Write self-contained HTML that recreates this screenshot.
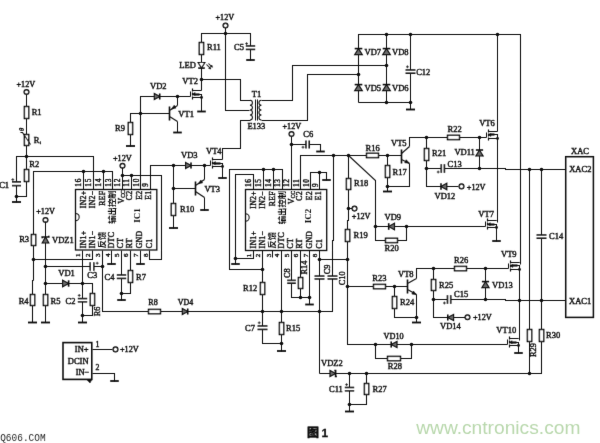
<!DOCTYPE html>
<html>
<head>
<meta charset="utf-8">
<title>图1</title>
<style>
html,body{margin:0;padding:0;background:#fff}
body{width:600px;height:443px;overflow:hidden;position:relative}
svg{position:absolute;left:0;top:0;display:block}
svg text{font-family:"Liberation Serif","Noto Serif CJK SC",serif;font-size:8.5px;fill:#0c0c0c;stroke:#0c0c0c;stroke-width:.4px}
svg text.cj{font-family:"Liberation Sans","Noto Sans CJK SC",sans-serif;font-weight:700;stroke-width:0}
svg text.b{font-weight:700;stroke-width:0}
polyline,.ln{fill:none;stroke:#0c0c0c;stroke-width:1.05}
.p{fill:none;stroke:#0c0c0c;stroke-width:1.6}
.pm{fill:none;stroke:#0c0c0c;stroke-width:.8}
.g{stroke:#0c0c0c;stroke-width:1.8}
.d{fill:#0c0c0c}
.t{fill:#fff;stroke:#0c0c0c;stroke-width:1.5}
.r{fill:#fff;stroke:#0c0c0c;stroke-width:1.45}
.w{fill:#fff;stroke:none}
.ic{fill:none;stroke:#0c0c0c;stroke-width:1.3}
.df{fill:#0c0c0c;stroke:#0c0c0c;stroke-width:.5;stroke-linejoin:round}
.do{fill:#fff;stroke:#0c0c0c;stroke-width:1.2}
.dd{fill:#6a6a6a;stroke:#0c0c0c;stroke-width:1.15;stroke-linejoin:miter}
svg text.q{font-family:"Liberation Mono",monospace;font-size:11.3px;fill:#2b2b2b;stroke:none}
svg text.fig{font-family:"Liberation Sans","Noto Sans CJK SC",sans-serif;font-weight:700;font-size:12px;fill:#0a0a0a;stroke:#0a0a0a;stroke-width:.55px}
svg text.fig1{font-family:"Liberation Sans",sans-serif;font-weight:700;font-size:11.8px;fill:#0a0a0a;stroke:#0a0a0a;stroke-width:.3px}
svg text.wm{font-family:"Liberation Sans",sans-serif;font-size:19.2px;fill:#b9d8ad;stroke:none}
</style>
</head>
<body>
<svg width="600" height="443" viewBox="0 0 600 443">
<defs><filter id="soft" x="0" y="0" width="600" height="443" filterUnits="userSpaceOnUse"><feConvolveMatrix order="3" kernelMatrix="0.0052 0.0619 0.0052 0.0619 0.7314 0.0619 0.0052 0.0619 0.0052" edgeMode="none"/></filter></defs>
<g filter="url(#soft)">
<text x="16.5" y="87.2" style="font-size:8.2px">+12V</text>
<circle class="t" cx="26.5" cy="92" r="2.3"/>
<polyline points="26.5,94.5 26.5,156.5"/>
<rect class="r" x="24.4" y="106.5" width="4.3" height="12"/>
<text x="31.7" y="115">R1</text>
<rect class="r" x="24.4" y="134.5" width="4.3" height="11"/>
<polyline points="20.5,132.5 22.5,132.5 30.5,144.5"/>
<text x="23.3" y="131.5" transform="rotate(-75 23.3 131.5)" style="font-size:6.5px">θ</text>
<text x="33.8" y="142.5">R</text>
<text x="39.8" y="144" style="font-size:4.2px">t</text>
<circle class="d" cx="26.5" cy="156.5" r="1.8"/>
<polyline points="26.5,156.5 26.5,196.5 16.5,196.5"/>
<rect class="r" x="24.4" y="169.5" width="4.3" height="12"/>
<text x="29.3" y="166.8">R2</text>
<polyline points="16.5,202.5 16.5,156.5 93.5,156.5 93.5,189.5"/>
<rect class="w" x="12" y="181.9" width="9" height="3.7"/>
<line class="p" x1="12" y1="181.9" x2="21" y2="181.9"/>
<line class="p" x1="12" y1="185.6" x2="21" y2="185.6"/>
<path class="pm" d="M11.4 179.6H14.2M12.8 178.2V181"/>
<text x="-0.8" y="187.8">C1</text>
<circle class="d" cx="16.5" cy="196.5" r="1.8"/>
<line class="g" x1="12" y1="202" x2="21" y2="202"/>
<polyline points="33.5,280.5 33.5,171.5 112.5,171.5 112.5,189.5"/>
<polyline points="83.5,171.5 83.5,189.5"/>
<polyline points="103.5,171.5 103.5,189.5"/>
<circle class="d" cx="83.5" cy="171.5" r="1.8"/>
<circle class="d" cx="103.5" cy="171.5" r="1.8"/>
<rect class="r" x="31.4" y="234.5" width="4.3" height="11"/>
<text x="19.2" y="242.3">R3</text>
<circle class="d" cx="33.5" cy="259.5" r="1.8"/>
<polyline points="33.5,259.5 92.5,259.5 92.5,250.5"/>
<polyline points="33.5,280.5 32.5,280.5 32.5,322.5"/>
<rect class="r" x="30.4" y="294.5" width="4.3" height="11"/>
<text x="18.7" y="303.5">R4</text>
<line class="g" x1="28" y1="322.5" x2="37" y2="322.5"/>
<text x="113" y="161.3" style="font-size:8.2px">+12V</text>
<circle class="t" cx="122.5" cy="165.8" r="2.3"/>
<polyline points="122.5,167.5 122.5,189.5"/>
<polyline points="122.5,175.5 161.5,175.5 161.5,259.5 149.5,259.5 149.5,250.5"/>
<polyline points="131.5,175.5 131.5,189.5"/>
<circle class="d" cx="122.5" cy="175.5" r="1.8"/>
<circle class="d" cx="131.5" cy="175.5" r="1.8"/>
<polyline points="140.5,189.5 140.5,96.5 190.5,96.5"/>
<polyline points="150.5,189.5 150.5,165.5 210.5,165.5"/>
<rect class="ic" x="75.5" y="189.5" width="81.3" height="60.5"/>
<path class="ln" d="M75.5 213.4A3.7 3.7 0 0 1 75.5 220.8"/>
<text x="81.1" y="186.8" transform="rotate(-90 81.1 186.8)" style="font-size:7.3px" letter-spacing="0.8">16</text>
<text x="91.4" y="186.8" transform="rotate(-90 91.4 186.8)" style="font-size:7.3px" letter-spacing="0.8">15</text>
<text x="101.1" y="186.8" transform="rotate(-90 101.1 186.8)" style="font-size:7.3px" letter-spacing="0.8">14</text>
<text x="110.6" y="186.8" transform="rotate(-90 110.6 186.8)" style="font-size:7.3px" letter-spacing="0.8">13</text>
<text x="120.1" y="186.8" transform="rotate(-90 120.1 186.8)" style="font-size:7.3px" letter-spacing="0.8">12</text>
<text x="129.4" y="186.8" transform="rotate(-90 129.4 186.8)" style="font-size:7.3px" letter-spacing="0.8">11</text>
<text x="138.9" y="186.8" transform="rotate(-90 138.9 186.8)" style="font-size:7.3px" letter-spacing="0.8">10</text>
<text x="148.1" y="186.8" transform="rotate(-90 148.1 186.8)" style="font-size:7.3px" letter-spacing="0.8">9</text>
<text x="86.3" y="190.5" text-anchor="end" transform="rotate(-90 86.3 190.5)" style="font-size:7.8px" letter-spacing=".3">IN2+</text>
<text x="94.8" y="190.5" text-anchor="end" transform="rotate(-90 94.8 190.5)" style="font-size:7.8px" letter-spacing=".3">IN2−</text>
<text x="105.1" y="190.5" text-anchor="end" transform="rotate(-90 105.1 190.5)" style="font-size:7.8px" letter-spacing=".3">REF</text>
<text x="115.1" y="190.3" text-anchor="end" transform="rotate(-90 115.1 190.3)" style="font-size:8.4px" class="cj">输出控制</text>
<text x="123.5" y="190.5" text-anchor="end" transform="rotate(-90 123.5 190.5)" style="font-size:8.2px">V<tspan style="font-size:5.4px" dy="1.4">CC</tspan></text>
<text x="132.4" y="190.5" text-anchor="end" transform="rotate(-90 132.4 190.5)" style="font-size:7.8px" letter-spacing=".3">C2</text>
<text x="141.9" y="190.5" text-anchor="end" transform="rotate(-90 141.9 190.5)" style="font-size:7.8px" letter-spacing=".3">E2</text>
<text x="151.3" y="190.5" text-anchor="end" transform="rotate(-90 151.3 190.5)" style="font-size:7.8px" letter-spacing=".3">E1</text>
<text x="140.3" y="222.8" transform="rotate(-90 140.3 222.8)" style="font-size:9px" class="b">IC1</text>
<text x="80.5" y="257.1" transform="rotate(-90 80.5 257.1)" style="font-size:7px">1</text>
<text x="90.5" y="257.1" transform="rotate(-90 90.5 257.1)" style="font-size:7px">2</text>
<text x="100.3" y="257.1" transform="rotate(-90 100.3 257.1)" style="font-size:7px">3</text>
<text x="109.7" y="257.1" transform="rotate(-90 109.7 257.1)" style="font-size:7px">4</text>
<text x="119" y="257.1" transform="rotate(-90 119 257.1)" style="font-size:7px">5</text>
<text x="128.5" y="257.1" transform="rotate(-90 128.5 257.1)" style="font-size:7px">6</text>
<text x="138" y="257.1" transform="rotate(-90 138 257.1)" style="font-size:7px">7</text>
<text x="147.7" y="257.1" transform="rotate(-90 147.7 257.1)" style="font-size:7px">8</text>
<text x="86.3" y="248.3" transform="rotate(-90 86.3 248.3)" style="font-size:7.8px" letter-spacing=".3">IN1+</text>
<text x="95.1" y="248.3" transform="rotate(-90 95.1 248.3)" style="font-size:7.8px" letter-spacing=".3">IN1−</text>
<text x="104.8" y="248.3" transform="rotate(-90 104.8 248.3)" style="font-size:8.2px" class="cj">反馈</text>
<text x="113.6" y="248.3" transform="rotate(-90 113.6 248.3)" style="font-size:7.8px" letter-spacing=".3">DTC</text>
<text x="123" y="248.3" transform="rotate(-90 123 248.3)" style="font-size:7.8px" letter-spacing=".3">CT</text>
<text x="132.4" y="248.3" transform="rotate(-90 132.4 248.3)" style="font-size:7.8px" letter-spacing=".3">RT</text>
<text x="142.1" y="248.3" transform="rotate(-90 142.1 248.3)" style="font-size:7.8px" letter-spacing=".3">GND</text>
<text x="151.6" y="248.3" transform="rotate(-90 151.6 248.3)" style="font-size:7.8px" letter-spacing=".3">C1</text>
<polyline points="82.5,250.5 82.5,322.5"/>
<line class="g" x1="78" y1="322.5" x2="87" y2="322.5"/>
<rect class="w" x="77.8" y="298.6" width="9.5" height="3.2"/>
<line class="p" x1="77.8" y1="298.6" x2="87.2" y2="298.6"/>
<line class="p" x1="77.8" y1="301.8" x2="87.2" y2="301.8"/>
<path class="pm" d="M77.8 295.4H80.6M79.2 294V296.8"/>
<text x="65.5" y="303.5">C2</text>
<circle class="d" cx="82.5" cy="283.5" r="1.8"/>
<circle class="d" cx="82.5" cy="315.5" r="1.8"/>
<polyline points="102.5,250.5 102.5,311.5 332.5,311.5 332.5,240.5 333.5,240.5 333.5,155.5"/>
<circle class="d" cx="102.5" cy="266.5" r="1.8"/>
<polyline points="111.5,250.5 111.5,264.5"/>
<line class="g" x1="107.2" y1="264" x2="115.8" y2="264"/>
<polyline points="121.5,250.5 121.5,300.5"/>
<rect class="w" x="116.8" y="275" width="9.5" height="3.4"/>
<line class="p" x1="116.8" y1="275" x2="126.2" y2="275"/>
<line class="p" x1="116.8" y1="278.4" x2="126.2" y2="278.4"/>
<text x="104.5" y="279.8">C4</text>
<circle class="d" cx="121.5" cy="293.5" r="1.8"/>
<line class="g" x1="117.2" y1="300" x2="125.8" y2="300"/>
<polyline points="130.5,250.5 130.5,293.5 121.5,293.5"/>
<rect class="r" x="128.3" y="270.5" width="4.3" height="12"/>
<text x="136" y="279.8">R7</text>
<polyline points="140.5,250.5 140.5,264.5"/>
<line class="g" x1="136.2" y1="264" x2="144.8" y2="264"/>
<text x="36.2" y="214" style="font-size:8.2px">+12V</text>
<circle class="t" cx="45.5" cy="220" r="2.3"/>
<polyline points="45.5,221.5 45.5,322.5"/>
<polygon class="dd" points="42.2,243 48.8,243 45.5,237"/>
<polyline class="p" points="42.2,238.3 42.2,237 48.8,237 48.8,235.7"/>
<text x="52" y="242.8">VDZ1</text>
<circle class="d" cx="45.5" cy="266.5" r="1.8"/>
<circle class="d" cx="45.5" cy="283.5" r="1.8"/>
<rect class="r" x="43.4" y="294.5" width="4.3" height="11"/>
<text x="50.6" y="303.5">R5</text>
<line class="g" x1="41" y1="322.5" x2="50" y2="322.5"/>
<polyline points="45.5,266.5 102.5,266.5"/>
<rect class="w" x="90.2" y="262.2" width="3.6" height="8.5"/>
<line class="p" x1="90.2" y1="262.2" x2="90.2" y2="270.8"/>
<line class="p" x1="93.8" y1="262.2" x2="93.8" y2="270.8"/>
<path class="pm" d="M95.8 263.2H98.6M97.2 261.8V264.6"/>
<text x="87.3" y="278.2">C3</text>
<polyline points="45.5,283.5 92.5,283.5 92.5,315.5 82.5,315.5"/>
<polygon class="dd" points="62.6,280.3 62.6,286.7 68.6,283.5"/>
<polyline class="p" points="68.6,280.3 68.6,286.7"/>
<text x="58.3" y="276.3">VD1</text>
<rect class="r" x="90.3" y="293.5" width="4.3" height="12"/>
<text x="100.3" y="316.2" transform="rotate(-90 100.3 316.2)" style="font-size:8.2px">R6</text>
<rect class="r" x="148.5" y="309.4" width="12" height="4.3"/>
<text x="148.3" y="305" style="font-size:8.1px">R8</text>
<polygon class="dd" points="182.3,308.5 182.3,314.5 187.7,311.5"/>
<polyline class="p" points="187.7,308.5 187.7,314.5"/>
<text x="177.8" y="305" style="font-size:7.9px">VD4</text>
<polyline points="130.5,146.5 130.5,113.5 169.5,113.5"/>
<circle class="d" cx="140.5" cy="113.5" r="1.8"/>
<rect class="r" x="128.3" y="122.5" width="4.3" height="12"/>
<text x="115" y="131">R9</text>
<line class="g" x1="126" y1="146" x2="135" y2="146"/>
<polygon class="dd" points="154.3,93.5 154.3,99.5 159.7,96.5"/>
<polyline class="p" points="159.7,93.5 159.7,99.5"/>
<text x="150" y="89">VD2</text>
<circle class="d" cx="177.5" cy="96.5" r="1.8"/>
<polyline points="169.5,106.5 169.5,120.5" style="stroke-width:1.6"/>
<polyline points="169.5,110.5 177.5,105.5"/>
<polyline points="169.5,116.5 177.5,121.5"/>
<polygon class="df" points="171.4,109 174.2,105.2 176,108.1"/>
<polyline points="177.5,105.5 177.5,96.5"/>
<polyline points="177.5,121.5 177.5,132.5"/>
<line class="g" x1="173.2" y1="132.5" x2="181.8" y2="132.5"/>
<text x="178.3" y="116.7">VT1</text>
<polyline points="190.5,91.5 190.5,96.5"/>
<polyline points="192.5,88.5 192.5,91.5" style="stroke-width:1.2"/>
<polyline points="192.5,92.5 192.5,95.5" style="stroke-width:1.2"/>
<polyline points="192.5,96.5 192.5,99.5" style="stroke-width:1.2"/>
<polyline points="192.5,90.5 201.5,90.5"/>
<polyline points="192.5,97.5 201.5,97.5"/>
<polyline points="192.5,94.5 201.5,94.5 201.5,97.5"/>
<polyline points="193.5,94.5 199.5,94.5" style="stroke-width:2.1"/>
<polygon class="df" points="192.7,94 195.1,92.5 195.1,95.5"/>
<circle class="d" cx="201.5" cy="97.5" r="1.4"/>
<text x="182.3" y="84.2">VT2</text>
<polyline points="201.5,97.5 201.5,111.5"/>
<line class="g" x1="197.2" y1="111.5" x2="205.8" y2="111.5"/>
<text x="215.5" y="20" style="font-size:8.2px">+12V</text>
<circle class="t" cx="225.5" cy="25.5" r="2.3"/>
<polyline points="225.5,27.5 225.5,110.5 249.5,110.5"/>
<circle class="d" cx="225.5" cy="33.5" r="1.8"/>
<polyline points="201.5,90.5 201.5,33.5 250.5,33.5 250.5,60.5"/>
<rect class="r" x="199.3" y="42.5" width="4.3" height="12"/>
<text x="207" y="50.2">R11</text>
<polygon class="do" points="198.2,62.5 204.8,62.5 201.5,68.1"/>
<polyline class="p" points="198.2,68.1 204.8,68.1"/>
<polyline points="206.5,64.5 210.5,68.5"/>
<polyline points="208.5,63.5 211.5,66.5"/>
<polygon class="df" points="210.8,69.1 208.6,68.4 210.1,66.9"/>
<polygon class="df" points="212.6,67.3 210.4,66.6 211.9,65.1"/>
<text x="179.3" y="68.3">LED</text>
<circle class="d" cx="201.5" cy="79.5" r="1.8"/>
<polyline points="201.5,79.5 240.5,79.5 240.5,100.5 250.5,100.5"/>
<rect class="w" x="245.8" y="46" width="9.5" height="3.4"/>
<line class="p" x1="245.8" y1="46" x2="255.2" y2="46"/>
<line class="p" x1="245.8" y1="49.4" x2="255.2" y2="49.4"/>
<path class="pm" d="M245.2 43.6H248M246.6 42.2V45"/>
<text x="234" y="49.8">C5</text>
<line class="g" x1="246.2" y1="60" x2="254.8" y2="60"/>
<path class="ln" d="M250 100.2a2.6 2.48 0 0 1 0 4.95a2.6 2.48 0 0 1 0 4.95a2.6 2.48 0 0 1 0 4.95a2.6 2.48 0 0 1 0 4.95"/>
<path class="ln" d="M261.4 100.2a2.6 2.48 0 0 0 0 4.95a2.6 2.48 0 0 0 0 4.95a2.6 2.48 0 0 0 0 4.95a2.6 2.48 0 0 0 0 4.95"/>
<polyline points="255.5,99.5 255.5,120.5"/>
<polyline points="257.5,99.5 257.5,120.5"/>
<text x="251.8" y="97.2">T1</text>
<text x="247.4" y="129.2">E133</text>
<polyline points="250.5,120.5 240.5,120.5 240.5,148.5 222.5,148.5 222.5,159.5"/>
<polygon class="dd" points="185.6,162.5 185.6,168.5 191,165.5"/>
<polyline class="p" points="191,162.5 191,168.5"/>
<text x="181" y="157.5">VD3</text>
<circle class="d" cx="173.5" cy="165.5" r="1.8"/>
<circle class="d" cx="204.5" cy="165.5" r="1.8"/>
<polyline points="173.5,165.5 173.5,228.5"/>
<rect class="r" x="171.3" y="203.5" width="4.3" height="12"/>
<text x="180" y="211.9">R10</text>
<line class="g" x1="169" y1="228" x2="178" y2="228"/>
<polyline points="173.5,188.5 195.5,188.5"/>
<circle class="d" cx="173.5" cy="188.5" r="1.8"/>
<polyline points="195.5,181.5 195.5,195.5" style="stroke-width:1.6"/>
<polyline points="195.5,185.5 204.5,179.5"/>
<polyline points="195.5,191.5 204.5,197.5"/>
<polygon class="df" points="198.2,183.9 200.8,180 202.7,182.8"/>
<polyline points="204.5,179.5 204.5,165.5"/>
<polyline points="204.5,197.5 204.5,210.5"/>
<line class="g" x1="200.2" y1="210" x2="208.8" y2="210"/>
<text x="204.4" y="191.7">VT3</text>
<polyline points="210.5,160.5 210.5,165.5"/>
<polyline points="212.5,157.5 212.5,160.5" style="stroke-width:1.2"/>
<polyline points="212.5,161.5 212.5,164.5" style="stroke-width:1.2"/>
<polyline points="212.5,165.5 212.5,168.5" style="stroke-width:1.2"/>
<polyline points="212.5,159.5 222.5,159.5"/>
<polyline points="212.5,166.5 222.5,166.5"/>
<polyline points="212.5,163.5 222.5,163.5 222.5,166.5"/>
<polyline points="213.5,163.5 220.5,163.5" style="stroke-width:2.1"/>
<polygon class="df" points="213,163.1 215.4,161.6 215.4,164.6"/>
<circle class="d" cx="222.5" cy="166.5" r="1.4"/>
<text x="206" y="153.8">VT4</text>
<polyline points="222.5,166.5 222.5,178.5"/>
<line class="g" x1="218.2" y1="178" x2="226.8" y2="178"/>
<rect class="ic" x="245.5" y="189.5" width="81.2" height="61"/>
<path class="ln" d="M245.5 213.8A3.7 3.7 0 0 1 245.5 221.2"/>
<text x="251.3" y="187.1" transform="rotate(-90 251.3 187.1)" style="font-size:7.3px" letter-spacing="0.8">16</text>
<text x="261.3" y="187.1" transform="rotate(-90 261.3 187.1)" style="font-size:7.3px" letter-spacing="0.8">15</text>
<text x="271.4" y="187.1" transform="rotate(-90 271.4 187.1)" style="font-size:7.3px" letter-spacing="0.8">14</text>
<text x="280.4" y="187.1" transform="rotate(-90 280.4 187.1)" style="font-size:7.3px" letter-spacing="0.8">13</text>
<text x="289.5" y="187.1" transform="rotate(-90 289.5 187.1)" style="font-size:7.3px" letter-spacing="0.8">12</text>
<text x="298.9" y="187.1" transform="rotate(-90 298.9 187.1)" style="font-size:7.3px" letter-spacing="0.8">11</text>
<text x="309" y="187.1" transform="rotate(-90 309 187.1)" style="font-size:7.3px" letter-spacing="0.8">10</text>
<text x="317.9" y="187.1" transform="rotate(-90 317.9 187.1)" style="font-size:7.3px" letter-spacing="0.8">9</text>
<text x="256.3" y="191" text-anchor="end" transform="rotate(-90 256.3 191)" style="font-size:7.8px" letter-spacing=".3">IN2+</text>
<text x="264.8" y="191" text-anchor="end" transform="rotate(-90 264.8 191)" style="font-size:7.8px" letter-spacing=".3">IN2−</text>
<text x="275.1" y="191" text-anchor="end" transform="rotate(-90 275.1 191)" style="font-size:7.8px" letter-spacing=".3">REF</text>
<text x="285.1" y="190.8" text-anchor="end" transform="rotate(-90 285.1 190.8)" style="font-size:8.4px" class="cj">输出控制</text>
<text x="293.5" y="191" text-anchor="end" transform="rotate(-90 293.5 191)" style="font-size:8.2px">V<tspan style="font-size:5.4px" dy="1.4">CC</tspan></text>
<text x="302.4" y="191" text-anchor="end" transform="rotate(-90 302.4 191)" style="font-size:7.8px" letter-spacing=".3">C2</text>
<text x="311.9" y="191" text-anchor="end" transform="rotate(-90 311.9 191)" style="font-size:7.8px" letter-spacing=".3">E2</text>
<text x="321.3" y="191" text-anchor="end" transform="rotate(-90 321.3 191)" style="font-size:7.8px" letter-spacing=".3">E1</text>
<text x="310.8" y="223.3" transform="rotate(-90 310.8 223.3)" style="font-size:9px" class="b">IC2</text>
<text x="251.2" y="257.3" transform="rotate(-90 251.2 257.3)" style="font-size:7px">1</text>
<text x="260.5" y="257.3" transform="rotate(-90 260.5 257.3)" style="font-size:7px">2</text>
<text x="270.7" y="257.3" transform="rotate(-90 270.7 257.3)" style="font-size:7px">3</text>
<text x="279" y="257.3" transform="rotate(-90 279 257.3)" style="font-size:7px">4</text>
<text x="289" y="257.3" transform="rotate(-90 289 257.3)" style="font-size:7px">5</text>
<text x="298.5" y="257.3" transform="rotate(-90 298.5 257.3)" style="font-size:7px">6</text>
<text x="307.7" y="257.3" transform="rotate(-90 307.7 257.3)" style="font-size:7px">7</text>
<text x="317.5" y="257.3" transform="rotate(-90 317.5 257.3)" style="font-size:7px">8</text>
<text x="256.3" y="248.5" transform="rotate(-90 256.3 248.5)" style="font-size:7.8px" letter-spacing=".3">IN1+</text>
<text x="265.1" y="248.5" transform="rotate(-90 265.1 248.5)" style="font-size:7.8px" letter-spacing=".3">IN1−</text>
<text x="274.8" y="248.5" transform="rotate(-90 274.8 248.5)" style="font-size:8.2px" class="cj">反馈</text>
<text x="283.6" y="248.5" transform="rotate(-90 283.6 248.5)" style="font-size:7.8px" letter-spacing=".3">DTC</text>
<text x="293" y="248.5" transform="rotate(-90 293 248.5)" style="font-size:7.8px" letter-spacing=".3">CT</text>
<text x="302.4" y="248.5" transform="rotate(-90 302.4 248.5)" style="font-size:7.8px" letter-spacing=".3">RT</text>
<text x="312.1" y="248.5" transform="rotate(-90 312.1 248.5)" style="font-size:7.8px" letter-spacing=".3">GND</text>
<text x="321.6" y="248.5" transform="rotate(-90 321.6 248.5)" style="font-size:7.8px" letter-spacing=".3">C1</text>
<polyline points="282.5,189.5 282.5,169.5 229.5,169.5 229.5,269.5 262.5,269.5"/>
<polyline points="263.5,169.5 263.5,189.5"/>
<polyline points="273.5,169.5 273.5,189.5"/>
<circle class="d" cx="263.5" cy="169.5" r="1.8"/>
<circle class="d" cx="273.5" cy="169.5" r="1.8"/>
<polyline points="253.5,189.5 253.5,174.5 235.5,174.5 235.5,264.5"/>
<polyline points="253.5,250.5 253.5,258.5 235.5,258.5"/>
<circle class="d" cx="235.5" cy="258.5" r="1.8"/>
<line class="g" x1="231.2" y1="264" x2="239.8" y2="264"/>
<text x="282.5" y="128.8" style="font-size:8.2px">+12V</text>
<circle class="t" cx="291.5" cy="134" r="2.3"/>
<polyline points="291.5,136.5 291.5,189.5"/>
<circle class="d" cx="291.5" cy="144.5" r="1.8"/>
<polyline points="291.5,144.5 320.5,144.5 320.5,151.5"/>
<rect class="w" x="306" y="140.5" width="3.2" height="8"/>
<line class="p" x1="306" y1="140.5" x2="306" y2="148.5"/>
<line class="p" x1="309.2" y1="140.5" x2="309.2" y2="148.5"/>
<path class="pm" d="M301.6 147.2H304.4M303 145.8V148.6"/>
<text x="303.3" y="137.2">C6</text>
<line class="g" x1="316.2" y1="151.5" x2="324.8" y2="151.5"/>
<polyline points="300.5,189.5 300.5,155.5 366.5,155.5"/>
<polyline points="310.5,189.5 310.5,172.5 326.5,172.5 326.5,180.5"/>
<polyline points="319.5,172.5 319.5,189.5"/>
<circle class="d" cx="319.5" cy="172.5" r="1.8"/>
<line class="g" x1="322.2" y1="180" x2="330.8" y2="180"/>
<polyline points="262.5,250.5 262.5,343.5 281.5,343.5"/>
<circle class="d" cx="262.5" cy="269.5" r="1.8"/>
<rect class="r" x="260.4" y="282.5" width="4.3" height="12"/>
<text x="243" y="290.5">R12</text>
<circle class="d" cx="262.5" cy="311.5" r="1.8"/>
<rect class="w" x="257.5" y="326" width="10" height="3.4"/>
<line class="p" x1="257.5" y1="326" x2="267.5" y2="326"/>
<line class="p" x1="257.5" y1="329.4" x2="267.5" y2="329.4"/>
<path class="pm" d="M257.8 322.8H260.6M259.2 321.4V324.2"/>
<text x="245" y="331.2">C7</text>
<polyline points="272.5,250.5 272.5,257.5"/>
<polyline points="281.5,250.5 281.5,351.5"/>
<circle class="d" cx="281.5" cy="311.5" r="1.8"/>
<rect class="r" x="279.4" y="322.5" width="4.3" height="12"/>
<text x="286" y="331.2">R15</text>
<circle class="d" cx="281.5" cy="343.5" r="1.8"/>
<line class="g" x1="277" y1="351" x2="286" y2="351"/>
<polyline points="291.5,250.5 291.5,297.5 309.5,297.5"/>
<rect class="w" x="287.2" y="280.4" width="8.5" height="2.8"/>
<line class="p" x1="287.2" y1="280.4" x2="295.8" y2="280.4"/>
<line class="p" x1="287.2" y1="283.2" x2="295.8" y2="283.2"/>
<text x="289.6" y="278" transform="rotate(-90 289.6 278)" style="font-size:8.4px">C8</text>
<polyline points="300.5,250.5 300.5,297.5"/>
<rect class="r" x="298.4" y="277.5" width="4.3" height="11"/>
<text x="307.4" y="274.5" transform="rotate(-90 307.4 274.5)" style="font-size:8.4px">R14</text>
<circle class="d" cx="300.5" cy="297.5" r="1.8"/>
<circle class="d" cx="309.5" cy="297.5" r="1.8"/>
<polyline points="309.5,250.5 309.5,304.5"/>
<line class="g" x1="305.2" y1="304.5" x2="313.8" y2="304.5"/>
<polyline points="319.5,250.5 319.5,373.5"/>
<circle class="d" cx="319.5" cy="259.5" r="1.8"/>
<polyline points="319.5,259.5 347.5,259.5"/>
<rect class="w" x="314.5" y="276.1" width="10" height="2.8"/>
<line class="p" x1="314.5" y1="276.1" x2="324.5" y2="276.1"/>
<line class="p" x1="314.5" y1="278.9" x2="324.5" y2="278.9"/>
<text x="329.6" y="274.3" transform="rotate(-90 329.6 274.3)" style="font-size:8.4px">C9</text>
<circle class="d" cx="319.5" cy="311.5" r="1.8"/>
<rect class="w" x="327.5" y="276.1" width="10" height="2.8"/>
<line class="p" x1="327.5" y1="276.1" x2="337.5" y2="276.1"/>
<line class="p" x1="327.5" y1="278.9" x2="337.5" y2="278.9"/>
<text x="345.3" y="285.3" transform="rotate(-90 345.3 285.3)" style="font-size:8.4px">C10</text>
<circle class="d" cx="333.5" cy="155.5" r="1.8"/>
<circle class="d" cx="348.5" cy="155.5" r="1.8"/>
<polyline points="348.5,155.5 348.5,220.5 347.5,220.5 347.5,344.5 507.5,344.5"/>
<rect class="r" x="346.4" y="178.5" width="4.3" height="11"/>
<text x="354" y="186">R18</text>
<circle class="d" cx="348.5" cy="208.5" r="1.8"/>
<polyline points="348.5,208.5 352.5,208.5"/>
<circle class="t" cx="354.5" cy="208.6" r="2.3"/>
<text x="351.8" y="218.6" style="font-size:8.2px">+12V</text>
<rect class="r" x="345.4" y="229.5" width="4.3" height="12"/>
<text x="353.6" y="238.3">R19</text>
<circle class="d" cx="347.5" cy="259.5" r="1.8"/>
<circle class="d" cx="347.5" cy="286.5" r="1.8"/>
<polyline points="348.5,155.5 375.5,180.5 375.5,240.5 406.5,240.5 406.5,226.5"/>
<rect class="r" x="366.5" y="153.3" width="12" height="4.3"/>
<text x="365.5" y="150.6">R16</text>
<polyline points="378.5,155.5 401.5,155.5"/>
<circle class="d" cx="387.5" cy="155.5" r="1.8"/>
<polyline points="387.5,155.5 387.5,191.5"/>
<rect class="r" x="385.4" y="165.5" width="4.3" height="12"/>
<text x="392.5" y="174.6">R17</text>
<line class="g" x1="383" y1="191.5" x2="392" y2="191.5"/>
<polyline points="401.5,149.5 401.5,163.5" style="stroke-width:1.6"/>
<polyline points="401.5,153.5 409.5,146.5"/>
<polyline points="401.5,159.5 409.5,163.5"/>
<polygon class="df" points="409.4,163.2 404.7,162.8 406.2,159.7"/>
<text x="391" y="145.6">VT5</text>
<polyline points="409.5,163.5 409.5,186.5 387.5,186.5"/>
<circle class="d" cx="387.5" cy="186.5" r="1.8"/>
<polyline points="409.5,146.5 409.5,137.5 486.5,137.5"/>
<circle class="d" cx="426.5" cy="137.5" r="1.8"/>
<rect class="r" x="447.5" y="135.3" width="12" height="4.3"/>
<text x="447.5" y="132.4">R22</text>
<polyline points="426.5,137.5 426.5,186.5 458.5,186.5"/>
<rect class="r" x="424.4" y="148.5" width="4.3" height="12"/>
<text x="432" y="156.2">R21</text>
<circle class="d" cx="426.5" cy="168.5" r="1.8"/>
<polyline points="426.5,168.5 505.5,168.5 505.5,169.5 565.5,169.5"/>
<rect class="w" x="441.3" y="164.2" width="3.1" height="8.5"/>
<line class="p" x1="441.3" y1="164.2" x2="441.3" y2="172.8"/>
<line class="p" x1="444.4" y1="164.2" x2="444.4" y2="172.8"/>
<path class="pm" d="M436.8 172H439.6M438.2 170.6V173.4"/>
<text x="447.5" y="167.3">C13</text>
<polygon class="dd" points="446.8,183.2 446.8,189.8 441,186.5"/>
<polyline class="p" points="441,183.2 441,189.8"/>
<circle class="t" cx="461.5" cy="186.4" r="2.3"/>
<text x="466.8" y="189.6" style="font-size:8.2px">+12V</text>
<text x="434.6" y="199">VD12</text>
<circle class="d" cx="479.5" cy="137.5" r="1.8"/>
<polyline points="479.5,137.5 479.5,168.5"/>
<polygon class="dd" points="475.9,156 483.1,156 479.5,150"/>
<polyline class="p" points="475.9,150 483.1,150"/>
<text x="454.4" y="155.3">VD11</text>
<circle class="d" cx="479.5" cy="168.5" r="1.8"/>
<polyline points="486.5,132.5 486.5,137.5"/>
<polyline points="488.5,129.5 488.5,132.5" style="stroke-width:1.2"/>
<polyline points="488.5,133.5 488.5,136.5" style="stroke-width:1.2"/>
<polyline points="488.5,137.5 488.5,140.5" style="stroke-width:1.2"/>
<polyline points="488.5,131.5 497.5,131.5"/>
<polyline points="488.5,138.5 497.5,138.5"/>
<polyline points="488.5,134.5 497.5,134.5 497.5,138.5"/>
<polyline points="489.5,134.5 494.5,134.5" style="stroke-width:2.1"/>
<polygon class="df" points="488.5,134.9 490.9,133.4 490.9,136.4"/>
<circle class="d" cx="497.5" cy="138.5" r="1.4"/>
<text x="479.2" y="126.3">VT6</text>
<polyline points="497.5,131.5 497.5,34.5"/>
<polyline points="497.5,138.5 497.5,222.5"/>
<circle class="d" cx="529.5" cy="169.5" r="1.8"/>
<circle class="d" cx="541.5" cy="169.5" r="1.8"/>
<polyline points="358.5,102.5 358.5,34.5 520.5,34.5 520.5,264.5"/>
<circle class="d" cx="386.5" cy="34.5" r="1.8"/>
<circle class="d" cx="410.5" cy="34.5" r="1.8"/>
<circle class="d" cx="497.5" cy="34.5" r="1.8"/>
<polyline points="386.5,34.5 386.5,102.5"/>
<polyline points="358.5,102.5 410.5,102.5"/>
<circle class="d" cx="386.5" cy="102.5" r="1.8"/>
<circle class="d" cx="410.5" cy="102.5" r="1.8"/>
<polyline points="410.5,34.5 410.5,109.5"/>
<rect class="w" x="405.5" y="70" width="10" height="3.2"/>
<line class="p" x1="405.5" y1="70" x2="415.5" y2="70"/>
<line class="p" x1="405.5" y1="73.2" x2="415.5" y2="73.2"/>
<path class="pm" d="M406 66.8H408.8M407.4 65.4V68.2"/>
<text x="416.2" y="75.2">C12</text>
<line class="g" x1="406" y1="109.5" x2="415" y2="109.5"/>
<polygon class="dd" points="354.7,54.6 362.3,54.6 358.5,48.6"/>
<polyline class="p" points="354.7,48.6 362.3,48.6"/>
<polygon class="dd" points="382.7,54.6 390.3,54.6 386.5,48.6"/>
<polyline class="p" points="382.7,48.6 390.3,48.6"/>
<polygon class="dd" points="354.7,90.6 362.3,90.6 358.5,84.6"/>
<polyline class="p" points="354.7,84.6 362.3,84.6"/>
<polygon class="dd" points="382.7,90.6 390.3,90.6 386.5,84.6"/>
<polyline class="p" points="382.7,84.6 390.3,84.6"/>
<text x="364.5" y="54.6">VD7</text>
<text x="392" y="54.6">VD8</text>
<text x="364.5" y="90.6">VD5</text>
<text x="392" y="90.6">VD6</text>
<polyline points="261.5,100.5 292.5,100.5 292.5,65.5 386.5,65.5"/>
<polyline points="261.5,120.5 307.5,120.5 307.5,74.5 358.5,74.5"/>
<circle class="d" cx="386.5" cy="65.5" r="1.8"/>
<circle class="d" cx="358.5" cy="74.5" r="1.8"/>
<polyline points="375.5,226.5 485.5,226.5"/>
<circle class="d" cx="375.5" cy="226.5" r="1.8"/>
<circle class="d" cx="406.5" cy="226.5" r="1.8"/>
<polygon class="dd" points="394.5,223.2 394.5,229.8 388.7,226.5"/>
<polyline class="p" points="388.7,223.2 388.7,229.8"/>
<text x="384.6" y="220.3">VD9</text>
<rect class="r" x="385.5" y="238.3" width="12" height="4.3"/>
<text x="384.6" y="251.3">R20</text>
<polyline points="485.5,221.5 485.5,226.5"/>
<polyline points="487.5,218.5 487.5,221.5" style="stroke-width:1.2"/>
<polyline points="487.5,222.5 487.5,225.5" style="stroke-width:1.2"/>
<polyline points="487.5,226.5 487.5,229.5" style="stroke-width:1.2"/>
<polyline points="487.5,220.5 496.5,220.5"/>
<polyline points="487.5,227.5 496.5,227.5"/>
<polyline points="487.5,224.5 496.5,224.5 496.5,227.5"/>
<polyline points="488.5,224.5 494.5,224.5" style="stroke-width:2.1"/>
<polygon class="df" points="487.9,224.2 490.3,222.7 490.3,225.7"/>
<circle class="d" cx="496.5" cy="227.5" r="1.4"/>
<polyline points="496.5,220.5 497.5,220.5"/>
<text x="478.3" y="216.6">VT7</text>
<polyline points="496.5,227.5 496.5,241.5"/>
<line class="g" x1="492.2" y1="241" x2="500.8" y2="241"/>
<polyline points="347.5,286.5 407.5,286.5"/>
<rect class="r" x="373.5" y="284.4" width="12" height="4.3"/>
<text x="372.3" y="281.4">R23</text>
<circle class="d" cx="394.5" cy="286.5" r="1.8"/>
<polyline points="394.5,286.5 394.5,317.5 416.5,317.5"/>
<rect class="r" x="392.4" y="296.5" width="4.3" height="12"/>
<text x="400" y="305.4">R24</text>
<polyline points="407.5,279.5 407.5,293.5" style="stroke-width:1.6"/>
<polyline points="407.5,283.5 416.5,278.5"/>
<polyline points="407.5,289.5 416.5,294.5"/>
<polygon class="df" points="416.4,294.8 411.8,294 413.5,291.1"/>
<text x="398" y="276.8">VT8</text>
<polyline points="416.5,294.5 416.5,322.5"/>
<circle class="d" cx="416.5" cy="317.5" r="1.8"/>
<line class="g" x1="412" y1="322.5" x2="421" y2="322.5"/>
<polyline points="416.5,278.5 416.5,268.5 508.5,268.5"/>
<circle class="d" cx="433.5" cy="268.5" r="1.8"/>
<rect class="r" x="454.5" y="266.4" width="12" height="4.3"/>
<text x="454" y="263.4">R26</text>
<polyline points="433.5,268.5 433.5,317.5 465.5,317.5"/>
<rect class="r" x="431.4" y="279.5" width="4.3" height="11"/>
<text x="439" y="287.5">R25</text>
<circle class="d" cx="433.5" cy="299.5" r="1.8"/>
<polyline points="433.5,299.5 505.5,299.5 505.5,300.5 565.5,300.5"/>
<rect class="w" x="447.5" y="295.2" width="3.2" height="8.5"/>
<line class="p" x1="447.5" y1="295.2" x2="447.5" y2="303.8"/>
<line class="p" x1="450.7" y1="295.2" x2="450.7" y2="303.8"/>
<path class="pm" d="M443 303H445.8M444.4 301.6V304.4"/>
<text x="454" y="297.2">C15</text>
<polygon class="dd" points="453.6,314.5 453.6,320.5 447.8,317.5"/>
<polyline class="p" points="447.8,314.5 447.8,320.5"/>
<circle class="t" cx="467.5" cy="317.2" r="2.3"/>
<text x="473" y="319.8" style="font-size:8.2px">+12V</text>
<text x="440" y="329">VD14</text>
<circle class="d" cx="485.5" cy="268.5" r="1.8"/>
<polyline points="485.5,268.5 485.5,299.5"/>
<polygon class="dd" points="481.9,287.6 489.1,287.6 485.5,281.6"/>
<polyline class="p" points="481.9,281.6 489.1,281.6"/>
<text x="492" y="287.5">VD13</text>
<circle class="d" cx="485.5" cy="299.5" r="1.8"/>
<polyline points="508.5,263.5 508.5,268.5"/>
<polyline points="510.5,260.5 510.5,263.5" style="stroke-width:1.2"/>
<polyline points="510.5,264.5 510.5,267.5" style="stroke-width:1.2"/>
<polyline points="510.5,268.5 510.5,271.5" style="stroke-width:1.2"/>
<polyline points="510.5,262.5 519.5,262.5"/>
<polyline points="510.5,269.5 519.5,269.5"/>
<polyline points="510.5,265.5 519.5,265.5 519.5,269.5"/>
<polyline points="511.5,265.5 517.5,265.5" style="stroke-width:2.1"/>
<polygon class="df" points="510.4,265.9 512.8,264.4 512.8,267.4"/>
<circle class="d" cx="519.5" cy="269.5" r="1.4"/>
<polyline points="519.5,262.5 520.5,262.5"/>
<text x="501" y="256.9">VT9</text>
<polyline points="519.5,269.5 519.5,340.5"/>
<circle class="d" cx="519.5" cy="300.5" r="1.8"/>
<circle class="d" cx="541.5" cy="300.5" r="1.8"/>
<polyline points="507.5,339.5 507.5,344.5"/>
<polyline points="509.5,336.5 509.5,339.5" style="stroke-width:1.2"/>
<polyline points="509.5,340.5 509.5,343.5" style="stroke-width:1.2"/>
<polyline points="509.5,344.5 509.5,347.5" style="stroke-width:1.2"/>
<polyline points="509.5,338.5 518.5,338.5"/>
<polyline points="509.5,345.5 518.5,345.5"/>
<polyline points="509.5,342.5 518.5,342.5 518.5,345.5"/>
<polyline points="510.5,342.5 516.5,342.5" style="stroke-width:2.1"/>
<polygon class="df" points="509.7,342.2 512.1,340.7 512.1,343.7"/>
<circle class="d" cx="518.5" cy="345.5" r="1.4"/>
<polyline points="518.5,338.5 519.5,338.5"/>
<text x="496.3" y="333.4">VT10</text>
<polyline points="518.5,345.5 518.5,353.5"/>
<line class="g" x1="514.2" y1="353" x2="522.8" y2="353"/>
<circle class="d" cx="375.5" cy="344.5" r="1.8"/>
<circle class="d" cx="411.5" cy="344.5" r="1.8"/>
<polygon class="dd" points="397,341.5 397,347.5 391.2,344.5"/>
<polyline class="p" points="391.2,341.5 391.2,347.5"/>
<text x="383.6" y="339" style="font-size:8.2px">VD10</text>
<polyline points="375.5,344.5 375.5,358.5 411.5,358.5 411.5,344.5"/>
<rect class="r" x="387.5" y="356.4" width="13" height="4.3"/>
<text x="387.8" y="368.8">R28</text>
<polyline points="529.5,169.5 529.5,373.5"/>
<polyline points="541.5,169.5 541.5,373.5 319.5,373.5"/>
<rect class="w" x="536.5" y="235" width="10" height="3.2"/>
<line class="p" x1="536.5" y1="235" x2="546.5" y2="235"/>
<line class="p" x1="536.5" y1="238.2" x2="546.5" y2="238.2"/>
<text x="549" y="239.2">C14</text>
<rect class="r" x="527.4" y="329.5" width="4.3" height="12"/>
<rect class="r" x="539.4" y="329.5" width="4.3" height="12"/>
<text x="546" y="338">R30</text>
<text x="536.4" y="357" transform="rotate(-90 536.4 357)" style="font-size:8.4px">R29</text>
<circle class="d" cx="529.5" cy="373.5" r="1.8"/>
<rect class="ic" style="stroke-width:1.5" x="565.7" y="156.7" width="27.7" height="160.7"/>
<text x="571" y="154">XAC</text>
<text x="569.2" y="172.3">XAC2</text>
<text x="569" y="303.9">XAC1</text>
<polygon class="dd" points="330,370.5 330,376.5 335.6,373.5"/>
<polyline class="p" points="334.3,370.5 335.6,370.5 335.6,376.5 336.9,376.5"/>
<text x="321" y="366.4">VDZ2</text>
<circle class="d" cx="349.5" cy="373.5" r="1.8"/>
<circle class="d" cx="366.5" cy="373.5" r="1.8"/>
<polyline points="349.5,373.5 349.5,411.5"/>
<rect class="w" x="344.8" y="387.5" width="9.5" height="3.3"/>
<line class="p" x1="344.8" y1="387.5" x2="354.2" y2="387.5"/>
<line class="p" x1="344.8" y1="390.8" x2="354.2" y2="390.8"/>
<path class="pm" d="M345.2 384.6H348M346.6 383.2V386"/>
<text x="329" y="391.8">C11</text>
<circle class="d" cx="349.5" cy="404.5" r="1.8"/>
<line class="g" x1="345" y1="411.5" x2="354" y2="411.5"/>
<polyline points="366.5,373.5 366.5,404.5 349.5,404.5"/>
<rect class="r" x="364.4" y="383.5" width="4.3" height="11"/>
<text x="372.5" y="391.8">R27</text>
<rect class="ic" style="stroke-width:1.6" x="63" y="342.6" width="28.8" height="36.8"/>
<polygon class="df" points="86.6,379.6 91.8,379.6 90,383"/>
<text x="88.6" y="351.6" text-anchor="end">IN+</text>
<text x="88.6" y="364" text-anchor="end">DCIN</text>
<text x="89.4" y="374.6" text-anchor="end">IN−</text>
<text x="95.6" y="346.5" style="font-size:7.8px">1</text>
<text x="95.4" y="370.2" style="font-size:7.8px">2</text>
<polyline points="92.5,349.5 112.5,349.5"/>
<circle class="t" cx="115.5" cy="349.4" r="2.3"/>
<text x="120" y="352.4" style="font-size:8.2px">+12V</text>
<polyline points="92.5,373.5 114.5,373.5 114.5,381.5"/>
<line class="g" x1="110.2" y1="381" x2="118.8" y2="381"/>
<text class="q" x="0.2" y="441.1" textLength="45.4" lengthAdjust="spacingAndGlyphs">Q606.COM</text>
<text class="fig" x="307" y="437.3">图</text><text class="fig1" x="321.4" y="436.7">1</text>
<text class="wm" x="416.2" y="433.6">www.cntronics.com</text>
</g>
</svg>
</body>
</html>
